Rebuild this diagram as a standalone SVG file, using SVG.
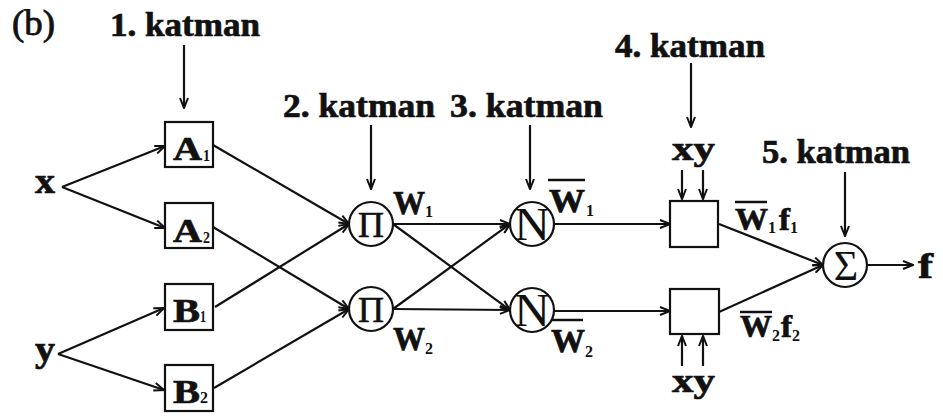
<svg xmlns="http://www.w3.org/2000/svg" width="943" height="416" viewBox="0 0 943 416">
<style>
.t{font-family:"Liberation Serif","Times New Roman",serif;font-weight:bold;fill:#111;stroke:#111;stroke-width:0.7}
.s{font-family:"Liberation Serif","Times New Roman",serif;font-weight:bold;fill:#111;font-size:16px}
.n{font-family:"Liberation Serif","Times New Roman",serif;fill:#111}
.box{fill:#fff;stroke:#111;stroke-width:2.2}
.c{fill:#fff;stroke:#111;stroke-width:2.2}
.e{fill:none;stroke:#111;stroke-width:2.2;marker-end:url(#ah)}
.ol{stroke:#111;stroke-width:2.5}
</style>
<defs>
<marker id="ah" viewBox="0 0 12 10" refX="11" refY="5" markerUnits="userSpaceOnUse" markerWidth="12" markerHeight="10" orient="auto">
<path d="M1,1 L11,5 L1,9" fill="none" stroke="#111" stroke-width="2"/>
</marker>
</defs>
<rect width="943" height="416" fill="#fff"/>

<g id="labels">
<text class="n" x="12" y="35" font-size="35" stroke="#111" stroke-width="0.8" textLength="43" lengthAdjust="spacingAndGlyphs">(b)</text>
<text class="t" x="110" y="36" font-size="34" textLength="150" lengthAdjust="spacingAndGlyphs">1. katman</text>
<text class="t" x="283" y="117" font-size="34" textLength="152" lengthAdjust="spacingAndGlyphs">2. katman</text>
<text class="t" x="450" y="117" font-size="34" textLength="153" lengthAdjust="spacingAndGlyphs">3. katman</text>
<text class="t" x="615" y="57" font-size="34" textLength="150" lengthAdjust="spacingAndGlyphs">4. katman</text>
<text class="t" x="762" y="163" font-size="34" textLength="148" lengthAdjust="spacingAndGlyphs">5. katman</text>
</g>

<g id="in-x"><text class="t" x="35" y="193" font-size="36" textLength="20" lengthAdjust="spacingAndGlyphs">x</text></g>
<g id="in-y"><text class="t" x="35" y="361" font-size="36" textLength="20" lengthAdjust="spacingAndGlyphs">y</text></g>

<g id="A1"><rect class="box" x="165" y="122" width="48" height="45"/><text class="t" x="173" y="160" font-size="33" textLength="29" lengthAdjust="spacingAndGlyphs">A</text><text class="s" x="203" y="161" font-size="14" textLength="7" lengthAdjust="spacingAndGlyphs">1</text></g>
<g id="A2"><rect class="box" x="165" y="203" width="48" height="45"/><text class="t" x="173" y="242" font-size="33" textLength="29" lengthAdjust="spacingAndGlyphs">A</text><text class="s" x="203" y="243" font-size="14" textLength="7" lengthAdjust="spacingAndGlyphs">2</text></g>
<g id="B1"><rect class="box" x="165" y="284" width="48" height="46"/><text class="t" x="173" y="322" font-size="33" textLength="27" lengthAdjust="spacingAndGlyphs">B</text><text class="s" x="200" y="322" font-size="14" textLength="6" lengthAdjust="spacingAndGlyphs">1</text></g>
<g id="B2"><rect class="box" x="165" y="365" width="48" height="46"/><text class="t" x="173" y="403" font-size="33" textLength="27" lengthAdjust="spacingAndGlyphs">B</text><text class="s" x="200" y="403" font-size="14" textLength="8" lengthAdjust="spacingAndGlyphs">2</text></g>

<g id="P1"><circle class="c" cx="371" cy="224" r="22"/><text class="n" x="371" y="237" font-size="36" text-anchor="middle" stroke="#111" stroke-width="0.6">Π</text>
<text class="t" x="393" y="214" font-size="33" textLength="32" lengthAdjust="spacingAndGlyphs">W</text><text class="s" x="425" y="217" font-size="18">1</text></g>
<g id="P2"><circle class="c" cx="371" cy="309" r="22"/><text class="n" x="371" y="322" font-size="36" text-anchor="middle" stroke="#111" stroke-width="0.6">Π</text>
<text class="t" x="393" y="350" font-size="33" textLength="32" lengthAdjust="spacingAndGlyphs">W</text><text class="s" x="425" y="354" font-size="18">2</text></g>

<g id="N1"><circle class="c" cx="532" cy="224" r="22"/><text class="n" x="532" y="240" font-size="46" text-anchor="middle" textLength="36" lengthAdjust="spacingAndGlyphs">N</text>
<line class="ol" x1="548" y1="180" x2="585" y2="180"/>
<text class="t" x="549" y="212" font-size="33" textLength="36" lengthAdjust="spacingAndGlyphs">W</text><text class="s" x="586" y="216" font-size="18">1</text></g>
<g id="N2"><circle class="c" cx="532" cy="310" r="22"/><text class="n" x="532" y="326" font-size="46" text-anchor="middle" textLength="36" lengthAdjust="spacingAndGlyphs">N</text>
<line class="ol" x1="552" y1="320" x2="583" y2="320"/>
<text class="t" x="551" y="352" font-size="33" textLength="34" lengthAdjust="spacingAndGlyphs">W</text><text class="s" x="585" y="357" font-size="18">2</text></g>

<g id="C1"><rect class="box" x="670" y="201" width="48" height="46"/>
<text class="t" x="672" y="160" font-size="34" textLength="43" lengthAdjust="spacingAndGlyphs">xy</text>
<line class="ol" x1="735" y1="202" x2="767" y2="202"/>
<text class="t" x="735" y="230" font-size="32" textLength="33" lengthAdjust="spacingAndGlyphs">W</text><text class="s" x="768" y="233">1</text>
<text class="t" x="779" y="230" font-size="32" textLength="11" lengthAdjust="spacingAndGlyphs">f</text><text class="s" x="790" y="233">1</text></g>
<g id="C2"><rect class="box" x="670" y="289" width="49" height="45"/>
<text class="t" x="672" y="392" font-size="34" textLength="43" lengthAdjust="spacingAndGlyphs">xy</text>
<line class="ol" x1="740" y1="312" x2="772" y2="312"/>
<text class="t" x="740" y="337" font-size="32" textLength="32" lengthAdjust="spacingAndGlyphs">W</text><text class="s" x="772" y="341">2</text>
<text class="t" x="781" y="337" font-size="32" textLength="11" lengthAdjust="spacingAndGlyphs">f</text><text class="s" x="792" y="341">2</text></g>

<g id="S"><circle class="c" cx="845" cy="265" r="22"/><text class="n" x="846" y="280" font-size="42" text-anchor="middle">Σ</text></g>
<g id="out-f"><text class="t" x="918" y="278" font-size="36" textLength="15" lengthAdjust="spacingAndGlyphs">f</text></g>

<g id="connectors">
<line class="e" x1="184" y1="45" x2="184" y2="108"/>
<line class="e" x1="371" y1="125" x2="371" y2="189"/>
<line class="e" x1="530" y1="125" x2="530" y2="189"/>
<line class="e" x1="691" y1="63" x2="691" y2="127"/>
<line class="e" x1="845" y1="172" x2="845" y2="236"/>
<line class="e" x1="62" y1="187" x2="165" y2="146"/>
<line class="e" x1="62" y1="187" x2="165" y2="228"/>
<line class="e" x1="58" y1="354" x2="164" y2="308"/>
<line class="e" x1="58" y1="354" x2="164" y2="390"/>
<line class="e" x1="213" y1="145" x2="349" y2="224"/>
<line class="e" x1="215" y1="307" x2="349" y2="224"/>
<line class="e" x1="213" y1="227" x2="349" y2="309"/>
<line class="e" x1="214" y1="388" x2="349" y2="309"/>
<line class="e" x1="393" y1="224" x2="510" y2="224"/>
<line class="e" x1="393" y1="224" x2="510" y2="310"/>
<line class="e" x1="393" y1="309" x2="510" y2="224"/>
<line class="e" x1="393" y1="309" x2="510" y2="310"/>
<line class="e" x1="554" y1="224" x2="670" y2="224"/>
<line class="e" x1="554" y1="311" x2="670" y2="311"/>
<line class="e" x1="682" y1="170" x2="682" y2="199"/>
<line class="e" x1="703" y1="170" x2="703" y2="199"/>
<line class="e" x1="682" y1="366" x2="682" y2="336"/>
<line class="e" x1="703" y1="366" x2="703" y2="336"/>
<line class="e" x1="719" y1="224" x2="823" y2="265"/>
<line class="e" x1="719" y1="312" x2="823" y2="265"/>
<line class="e" x1="867" y1="265" x2="913" y2="265"/>
</g>
</svg>
